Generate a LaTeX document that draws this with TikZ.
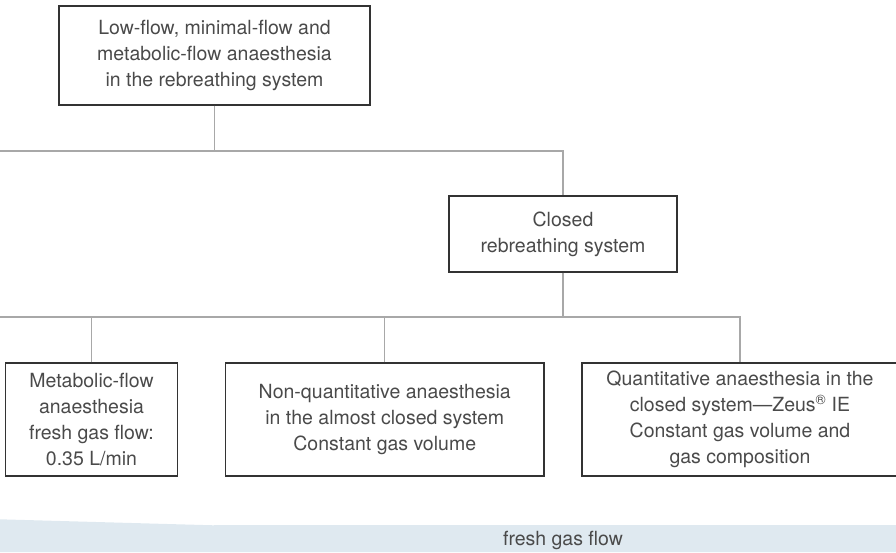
\documentclass[tikz,border=0pt]{standalone}
\usepackage{fontspec}
\setmainfont{TeX Gyre Heros}
\definecolor{txt}{HTML}{4A4A4A}
\definecolor{boxline}{HTML}{333333}
\definecolor{conn}{HTML}{A8A8A8}
\definecolor{band}{HTML}{DFE9F0}
\begin{document}
\begin{tikzpicture}[x=1pt,y=-1pt,
  box/.style={draw=boxline, line width=1.4pt, align=center, text=txt,
    font=\fontsize{19.5}{26}\selectfont, inner sep=0pt},
  link/.style={draw=conn, line width=1.2pt}]
\useasboundingbox (0,0) rectangle (896,552);
% band
\fill[band] (0,519.3) -- (214,525.3) -- (214,525) -- (896,525) -- (896,552) -- (0,552) -- cycle;
\node[text=txt, font=\fontsize{19.5}{26}\selectfont] (fgf) at (563,540) {fresh gas flow};
% nodes
\node[box, minimum width=311pt, minimum height=99pt] (top) at (214.5,55.5)
  {Low-flow, minimal-flow and\\metabolic-flow anaesthesia\\in the rebreathing system};
\node[box, minimum width=228pt, minimum height=76pt] (closed) at (563,234)
  {Closed\\rebreathing system};
\node[box, minimum width=172pt, minimum height=113pt] (b1) at (91.5,419.5)
  {Metabolic-flow\\anaesthesia\\fresh gas flow:\\0.35 L/min};
\node[box, minimum width=318.5pt, minimum height=113pt] (b2) at (384.75,419.5)
  {Non-quantitative anaesthesia\\in the almost closed system\\Constant gas volume};
\node[box, minimum width=316pt, minimum height=113pt] (b3) at (740,419.5)
  {Quantitative anaesthesia in the\\closed system---Zeus\textsuperscript{®} IE\\Constant gas volume and\\gas composition};
% connectors
\coordinate (l1) at (0,151);
\coordinate (l2) at (0,317);
\draw[link] (top.south) -- (top.south |- l1);
\draw[link] (l1) -| (closed.north);
\draw[link] (closed.south) -- (closed.south |- l2);
\draw[link] (l2) -| (b3.north);
\draw[link] (b1.north) -- (b1.north |- l2);
\draw[link] (b2.north) -- (b2.north |- l2);
\end{tikzpicture}
\end{document}
